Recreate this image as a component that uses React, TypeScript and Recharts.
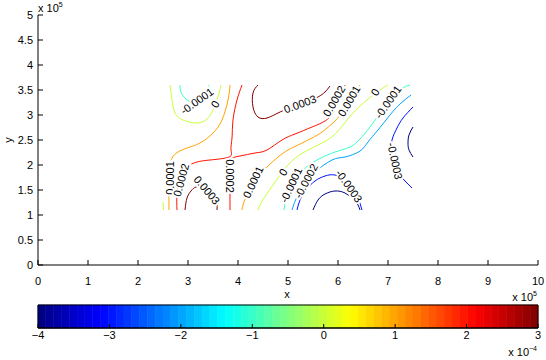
import React from "react";
import { ScatterChart, Scatter, XAxis, YAxis, ReferenceArea } from "recharts";

const X_TICKS = [0, 1, 2, 3, 4, 5, 6, 7, 8, 9, 10];
const Y_TICKS = [0, 0.5, 1, 1.5, 2, 2.5, 3, 3.5, 4, 4.5, 5];
const CBAR_TICKS = [-4, -3, -2, -1, 0, 1, 2, 3];
const CBAR_MIN = -4e-4;
const CBAR_MAX = 3e-4;
const CBAR_STEPS = 64;

// contour paths, [x, y] in units of 1e5
const negFourBottom = [[5.5, 1.1], [5.6, 1.3], [5.74, 1.42], [5.94, 1.48], [6.14, 1.44], [6.3, 1.32], [6.4, 1.2], [6.44, 1.1]];
const negFourRight = [[7.5, 2.76], [7.42, 2.6], [7.4, 2.44], [7.42, 2.3], [7.5, 2.16]];
const negThreeBottom = [[5.18, 1.1], [5.24, 1.3], [5.36, 1.5], [5.54, 1.68], [5.74, 1.78], [5.94, 1.8], [6.14, 1.7], [6.28, 1.54], [6.4, 1.34], [6.48, 1.1]];
const negThreeRight = [[7.5, 3.16], [7.3, 2.94], [7.18, 2.74], [7.08, 2.5], [7.08, 2.26], [7.14, 2.0], [7.24, 1.8], [7.36, 1.66], [7.48, 1.54]];
const negTwo = [[7.46, 3.4], [7.24, 3.22], [7.04, 3.0], [6.8, 2.7], [6.6, 2.46], [6.44, 2.28], [6.14, 2.16], [5.88, 2.1], [5.54, 1.86], [5.38, 1.66], [5.2, 1.4], [5.08, 1.1]];
const negOneMain = [[7.44, 3.6], [7.24, 3.5], [7.0, 3.26], [6.84, 3.04], [6.64, 2.76], [6.44, 2.52], [6.24, 2.36], [5.94, 2.26], [5.58, 2.1], [5.3, 1.9], [5.14, 1.7], [5.04, 1.5], [4.96, 1.3], [4.92, 1.1]];
const negOneTop = [[2.84, 3.6], [2.86, 3.46], [2.96, 3.32], [3.14, 3.24], [3.3, 3.32], [3.38, 3.46], [3.42, 3.6]];
const zeroTop = [[2.64, 3.6], [2.68, 3.3], [2.74, 3.04], [2.9, 2.9], [3.18, 2.84], [3.38, 2.92], [3.48, 3.06], [3.54, 3.2], [3.62, 3.44], [3.66, 3.6]];
const zeroCorner = [[2.5, 1.26], [2.51, 1.1]];
const zeroMain = [[7.0, 3.6], [6.84, 3.5], [6.58, 3.3], [6.3, 3.04], [6.1, 2.8], [5.9, 2.58], [5.68, 2.44], [5.44, 2.32], [5.2, 2.18], [5.0, 2.0], [4.84, 1.8], [4.7, 1.6], [4.56, 1.4], [4.46, 1.24], [4.4, 1.1]];
const posOneLeft = [[3.84, 3.6], [3.8, 3.3], [3.68, 2.9], [3.5, 2.64], [3.24, 2.44], [2.98, 2.34], [2.8, 2.26], [2.68, 2.14], [2.64, 1.9], [2.62, 1.5], [2.62, 1.1]];
const posOneMain = [[6.44, 3.6], [6.34, 3.44], [6.2, 3.24], [6.08, 3.06], [5.94, 2.88], [5.68, 2.66], [5.48, 2.54], [5.2, 2.4], [5.0, 2.3], [4.8, 2.16], [4.6, 1.98], [4.44, 1.8], [4.3, 1.6], [4.18, 1.4], [4.1, 1.2], [4.08, 1.1]];
const posTwoLeft = [[4.08, 3.6], [3.98, 3.3], [3.9, 2.9], [3.88, 2.54], [3.86, 2.3], [3.82, 2.16], [3.44, 2.1], [3.18, 2.06], [2.98, 1.96], [2.84, 1.74], [2.78, 1.4], [2.78, 1.1]];
const posTwoRight = [[3.84, 1.1], [3.84, 1.4], [3.84, 1.8], [3.86, 2.1], [4.04, 2.18], [4.34, 2.24], [4.58, 2.3], [4.88, 2.5], [5.14, 2.62], [5.48, 2.76], [5.74, 2.88], [5.9, 3.04], [6.0, 3.26], [6.1, 3.5], [6.14, 3.6]];
const posThreeTop = [[4.4, 3.6], [4.3, 3.44], [4.3, 3.16], [4.4, 2.96], [4.58, 2.94], [4.8, 3.04], [5.04, 3.14], [5.34, 3.24], [5.6, 3.36], [5.74, 3.46], [5.84, 3.58]];
const posThreeBottom = [[2.94, 1.1], [2.98, 1.34], [3.06, 1.48], [3.16, 1.56], [3.32, 1.56], [3.46, 1.5], [3.54, 1.38], [3.58, 1.24], [3.58, 1.1]];

const contours = [
  { level: -0.0004, pts: negFourBottom },
  { level: -0.0004, pts: negFourRight },
  { level: -0.0003, pts: negThreeBottom },
  { level: -0.0003, pts: negThreeRight },
  { level: -0.0002, pts: negTwo },
  { level: -0.0001, pts: negOneMain },
  { level: -0.0001, pts: negOneTop },
  { level: 0, pts: zeroTop },
  { level: 0, pts: zeroCorner },
  { level: 0, pts: zeroMain },
  { level: 0.0001, pts: posOneLeft },
  { level: 0.0001, pts: posOneMain },
  { level: 0.0002, pts: posTwoLeft },
  { level: 0.0002, pts: posTwoRight },
  { level: 0.0003, pts: posThreeTop },
  { level: 0.0003, pts: posThreeBottom },
];

const contourLabels = [
  { x: 3.18, y: 3.28, text: "-0.0001", angle: -35 },
  { x: 3.54, y: 3.22, text: "0", angle: -60 },
  { x: 5.24, y: 3.22, text: "0.0003", angle: -20 },
  { x: 5.92, y: 3.28, text: "0.0002", angle: -60 },
  { x: 6.22, y: 3.28, text: "0.0001", angle: -60 },
  { x: 6.74, y: 3.46, text: "0", angle: -60 },
  { x: 7.0, y: 3.26, text: "-0.0001", angle: -55 },
  { x: 2.64, y: 1.74, text: "0.0001", angle: -90 },
  { x: 2.86, y: 1.7, text: "0.0002", angle: -75 },
  { x: 3.38, y: 1.5, text: "0.0003", angle: 50 },
  { x: 3.84, y: 1.78, text: "0.0002", angle: 90 },
  { x: 4.3, y: 1.66, text: "0.0001", angle: -65 },
  { x: 4.9, y: 1.86, text: "0", angle: -60 },
  { x: 5.06, y: 1.6, text: "-0.0001", angle: -65 },
  { x: 5.36, y: 1.68, text: "-0.0002", angle: -62 },
  { x: 6.22, y: 1.58, text: "-0.0003", angle: 55 },
  { x: 7.14, y: 2.08, text: "-0.0003", angle: 78 },
];

const FONT = "'Liberation Sans', Arial, Helvetica, sans-serif";

function jet(t: number) {
  const c = (v: number) => Math.round(255 * Math.max(0, Math.min(1, v)));
  return `rgb(${c(1.5 - Math.abs(4 * t - 3))},${c(1.5 - Math.abs(4 * t - 2))},${c(1.5 - Math.abs(4 * t - 1))})`;
}

const levelColor = (lvl: number) => jet((lvl - CBAR_MIN) / (CBAR_MAX - CBAR_MIN));

// colour bins of the colour bar, in units of 1e-4
const cbarBins = Array.from({ length: CBAR_STEPS }, (_, i) => {
  const w = (CBAR_TICKS[CBAR_TICKS.length - 1] - CBAR_TICKS[0]) / CBAR_STEPS;
  return { x1: CBAR_TICKS[0] + i * w, x2: CBAR_TICKS[0] + (i + 1) * w, color: jet((i + 0.5) / CBAR_STEPS) };
});

const axisStroke = { stroke: "#000" };
const tickStyle = { fontSize: 11, fill: "#000", fontFamily: FONT };
const blank = () => "";
const noShape = () => <g />;

function ContourLabel(p: any) {
  const { cx, cy, payload } = p;
  return (
    <text
      x={cx}
      y={cy}
      transform={`rotate(${payload.angle} ${cx} ${cy})`}
      textAnchor="middle"
      dominantBaseline="central"
      fontSize={11}
      fontFamily={FONT}
      fill="#000"
      stroke="#fff"
      strokeWidth={4}
      paintOrder="stroke"
    >
      {payload.text}
    </text>
  );
}

export default function App() {
  return (
    <div style={{ position: "absolute", left: 0, top: 0, width: 546, height: 360, background: "#fff", fontFamily: FONT }}>
      <ScatterChart width={546} height={295} margin={{ top: 15, right: 8, bottom: 0, left: 8 }}>
        <XAxis type="number" dataKey="x" domain={[0, 10]} ticks={X_TICKS} height={30}
          tickSize={-5} tickMargin={17} axisLine={axisStroke} tickLine={axisStroke} tick={tickStyle} />
        <XAxis xAxisId="top" orientation="top" type="number" dataKey="x" domain={[0, 10]} ticks={X_TICKS} height={0}
          tickSize={-5} tickFormatter={blank} axisLine={axisStroke} tickLine={axisStroke} />
        <YAxis type="number" dataKey="y" domain={[0, 5]} ticks={Y_TICKS} width={30}
          tickSize={-5} tickMargin={10} axisLine={axisStroke} tickLine={axisStroke} tick={tickStyle} />
        <YAxis yAxisId="right" orientation="right" type="number" dataKey="y" domain={[0, 5]} ticks={Y_TICKS} width={0}
          tickSize={-5} tickFormatter={blank} axisLine={axisStroke} tickLine={axisStroke} />
        <Scatter xAxisId="top" yAxisId="right" data={[{ x: 0, y: 0 }, { x: 10, y: 5 }]} shape={noShape} isAnimationActive={false} />
        {contours.map((c, k) => (
          <Scatter
            key={k}
            data={c.pts.map(([x, y]) => ({ x, y }))}
            line={{ stroke: levelColor(c.level), strokeWidth: 1 }}
            lineType="joint"
            lineJointType="natural"
            shape={noShape}
            isAnimationActive={false}
          />
        ))}
        <Scatter data={contourLabels} shape={ContourLabel} isAnimationActive={false} />
      </ScatterChart>

      <div style={{ position: "absolute", left: 0, top: 295 }}>
        <ScatterChart width={546} height={60} margin={{ top: 10, right: 8, bottom: 0, left: 38 }}>
          <XAxis type="number" dataKey="x" domain={[-4, 3]} ticks={CBAR_TICKS} height={27}
            tickSize={-4} tickMargin={7} axisLine={axisStroke} tickLine={axisStroke} tick={tickStyle}
            tickFormatter={(v: number) => String(v).replace("-", "\u2212")} />
          <XAxis xAxisId="top" orientation="top" type="number" dataKey="x" domain={[-4, 3]} ticks={CBAR_TICKS} height={0}
            tickSize={-4} tickFormatter={blank} axisLine={axisStroke} tickLine={axisStroke} />
          <YAxis type="number" dataKey="y" domain={[0, 1]} width={0} tick={false} tickLine={false} axisLine={false} />
          <YAxis yAxisId="r" orientation="right" type="number" dataKey="y" domain={[0, 1]} width={0} tick={false} tickLine={false} axisLine={false} />
          {cbarBins.map((b, i) => (
            <ReferenceArea key={i} x1={b.x1} x2={b.x2} y1={0} y2={1} fill={b.color} fillOpacity={1}
              stroke={b.color} strokeWidth={0.6} ifOverflow="visible" />
          ))}
          <ReferenceArea x1={-4} x2={3} y1={0} y2={1} fill="none" stroke="#000" strokeWidth={1} ifOverflow="visible" />
          <Scatter data={[{ x: -4, y: 0 }, { x: 3, y: 1 }]} shape={noShape} isAnimationActive={false} />
          <Scatter xAxisId="top" yAxisId="r" data={[{ x: -4, y: 0 }, { x: 3, y: 1 }]} shape={noShape} isAnimationActive={false} />
        </ScatterChart>
      </div>

      <svg width={546} height={360} style={{ position: "absolute", left: 0, top: 0, pointerEvents: "none" }}
        fontFamily={FONT} fontSize={11} fill="#000">
        <text x={38} y={12}>
          x 10<tspan fontSize={7} dy={-5}>5</tspan>
        </text>
        <text x={12} y={140} textAnchor="middle" transform="rotate(-90 12 140)">y</text>
        <text x={287} y={298} textAnchor="middle">x</text>
        <text x={537} y={301} textAnchor="end">
          x 10<tspan fontSize={7} dy={-5}>5</tspan>
        </text>
        <text x={537} y={356} textAnchor="end">
          x 10<tspan fontSize={7} dy={-5}>−4</tspan>
        </text>
      </svg>
    </div>
  );
}
